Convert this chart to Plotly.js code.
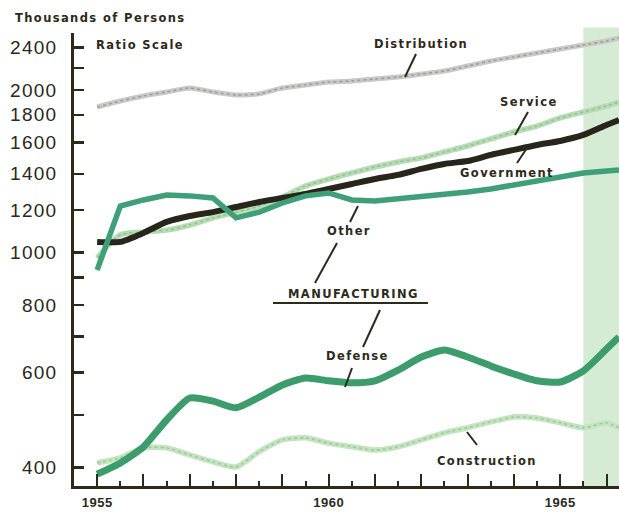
<!DOCTYPE html>
<html>
<head>
<meta charset="utf-8">
<script src="https://cdn.plot.ly/plotly-3.0.1.min.js"></script>
<style>
  html, body { margin: 0; padding: 0; background: #ffffff; }
  #chart { width: 619px; height: 512px; }
  .annotation-text { letter-spacing: 1.4px; }
  .ytick text { letter-spacing: 1.2px; }
  .xtick text { letter-spacing: 0.5px; }
</style>
</head>
<body>
<div id="chart"></div>
<script>
// ---- data (thousands of persons, ratio scale), semi-annual readings ----
const years = [1955, 1955.5, 1956, 1956.5, 1957, 1957.5, 1958, 1958.5, 1959, 1959.5,
               1960, 1960.5, 1961, 1961.5, 1962, 1962.5, 1963, 1963.5, 1964, 1964.5,
               1965, 1965.5, 1966, 1966.27];
const distribution = [1861, 1909, 1951, 1984, 2018, 1984, 1959, 1968, 2018, 2044,
                      2070, 2079, 2097, 2115, 2142, 2170, 2216, 2265, 2303, 2343,
                      2383, 2424, 2466, 2498];
const service = [978, 1079, 1092, 1101, 1125, 1160, 1189, 1220, 1268, 1329,
                 1369, 1405, 1441, 1472, 1498, 1537, 1576, 1624, 1673, 1716,
                 1776, 1822, 1869, 1901];
const government = [1047, 1047, 1088, 1140, 1169, 1189, 1215, 1241, 1263, 1284,
                    1312, 1340, 1369, 1393, 1429, 1460, 1478, 1517, 1550, 1583,
                    1610, 1652, 1724, 1761];
const otherMfg = [929, 1220, 1252, 1279, 1274, 1263, 1160, 1189, 1236, 1274,
                  1290, 1252, 1246, 1257, 1274, 1284, 1295, 1312, 1335, 1363,
                  1387, 1405, 1417, 1423];
const defense = [389, 408, 437, 490, 538, 531, 516, 540, 569, 586,
                 579, 574, 579, 606, 641, 660, 641, 617, 596, 579,
                 576, 604, 663, 698];
const construction = [408, 417, 435, 435, 422, 410, 401, 428, 450, 454,
                      444, 437, 431, 437, 450, 464, 474, 486, 496, 494,
                      484, 474, 484, 474];

const yTickVals = [400, 500, 600, 700, 800, 900, 1000, 1200, 1400, 1600, 1800, 2000, 2200, 2400, 2550];
const yTickText = ['400', '', '600', '', '800', '', '1000', '1200', '1400', '1600', '1800', '2000', '', '2400', ''];
const xTickVals = [1955, 1956, 1957, 1958, 1959, 1960, 1961, 1962, 1963, 1964, 1965, 1966];
const xTickText = ['1955', '', '', '', '', '1960', '', '', '', '', '1965', ''];
const xMinorVals = [1955.5, 1956.5, 1957.5, 1958.5, 1959.5, 1960.5, 1961.5, 1962.5, 1963.5, 1964.5, 1965.5, 1966.5];
const forecastStart = 1965.5;

// ---- layout helpers (pixel -> paper) ----
const L = 74, R = 619, T = 33, B = 486;
const px = x => (x - L) / (R - L);
const py = y => (B - y) / (B - T);
const ink = '#2d2a1c';
const labelFont = { family: 'DejaVu Sans, Liberation Sans, sans-serif', size: 11.5, color: ink, weight: 'bold' };

function line(trace, color, width, shape, dash) {
  return { x: years, y: trace, type: 'scatter', mode: 'lines',
           line: { color: color, width: width, shape: shape || 'linear', smoothing: 0.6, dash: dash || 'solid' },
           hoverinfo: 'skip', showlegend: false };
}

const data = [
  line(distribution, '#c9c9c6', 5, 'spline'),
  line(distribution, '#9c9c98', 1.5, 'spline', 'dot'),
  line(service, '#b7dcb5', 5.5, 'spline'),
  line(service, '#8cc48b', 1.5, 'spline', 'dot'),
  line(construction, '#c3e3c1', 5.5, 'spline'),
  line(construction, '#98cb97', 1.5, 'spline', 'dot'),
  line(government, '#28251a', 6, 'spline'),
  line(otherMfg, '#3f9f78', 5.5, 'linear'),
  line(defense, '#3c9c6c', 7, 'spline')
];

function leader(x0, y0, x1, y1, w) {
  return { type: 'line', xref: 'paper', yref: 'paper',
           x0: px(x0), y0: py(y0), x1: px(x1), y1: py(y1),
           line: { color: ink, width: w || 2 } };
}

const shapes = [
  { type: 'rect', xref: 'x', yref: 'paper', x0: forecastStart, x1: 1966.27, y0: 0, y1: 1.012,
    fillcolor: '#d6ebd4', line: { width: 0 }, layer: 'below' },
  leader(416, 54, 405, 77),
  leader(528, 112, 515, 135),
  leader(527, 148, 517, 163),
  leader(358, 206, 350, 222),
  leader(337, 243, 315, 283),
  leader(273, 303, 428, 303, 2),
  leader(380, 310, 363, 347),
  leader(352, 368, 345, 387),
  leader(467, 432, 477, 445)
];

function label(text, x, y, anchor) {
  return { text: text, xref: 'paper', yref: 'paper', x: px(x), y: py(y),
           xanchor: anchor || 'center', yanchor: 'middle', showarrow: false,
           font: labelFont };
}

const annotations = [
  label('Thousands of Persons', 13, 18, 'left'),
  label('Ratio Scale', 94, 45, 'left'),
  label('Distribution', 421, 44),
  label('Service', 529, 102),
  label('Government', 507, 173),
  label('Other', 349, 231),
  label('MANUFACTURING', 353, 294),
  label('Defense', 357, 356),
  label('Construction', 487, 461)
];

const layout = {
  width: 619, height: 512,
  margin: { l: L, r: 619 - R, t: T, b: 512 - B, pad: 0 },
  paper_bgcolor: '#ffffff', plot_bgcolor: '#ffffff',
  showlegend: false,
  xaxis: {
    range: [1954.5, 1966.27], showgrid: false, zeroline: false,
    tickvals: xTickVals, ticktext: xTickText,
    ticks: 'inside', ticklen: 12, tickwidth: 2, tickcolor: ink,
    showline: true, linewidth: 3, linecolor: ink,
    tickfont: { family: 'Liberation Sans, Arial, sans-serif', size: 13, color: ink, weight: 'bold' },
    ticklabelstandoff: 2,
    minor: { tickvals: xMinorVals, ticks: 'inside', ticklen: 5, tickwidth: 2, tickcolor: ink, showgrid: false }
  },
  yaxis: {
    type: 'log', range: [2.5679, 3.4068], showgrid: false, zeroline: false,
    tickvals: yTickVals, ticktext: yTickText,
    ticks: 'inside', ticklen: 10, tickwidth: 2.5, tickcolor: ink,
    showline: true, linewidth: 3, linecolor: ink,
    tickfont: { family: 'Liberation Sans, Arial, sans-serif', size: 19, color: '#2a2820' },
    ticklabelstandoff: 10
  },
  shapes: shapes,
  annotations: annotations
};

Plotly.newPlot('chart', data, layout, { staticPlot: true, displayModeBar: false });
</script>
</body>
</html>
